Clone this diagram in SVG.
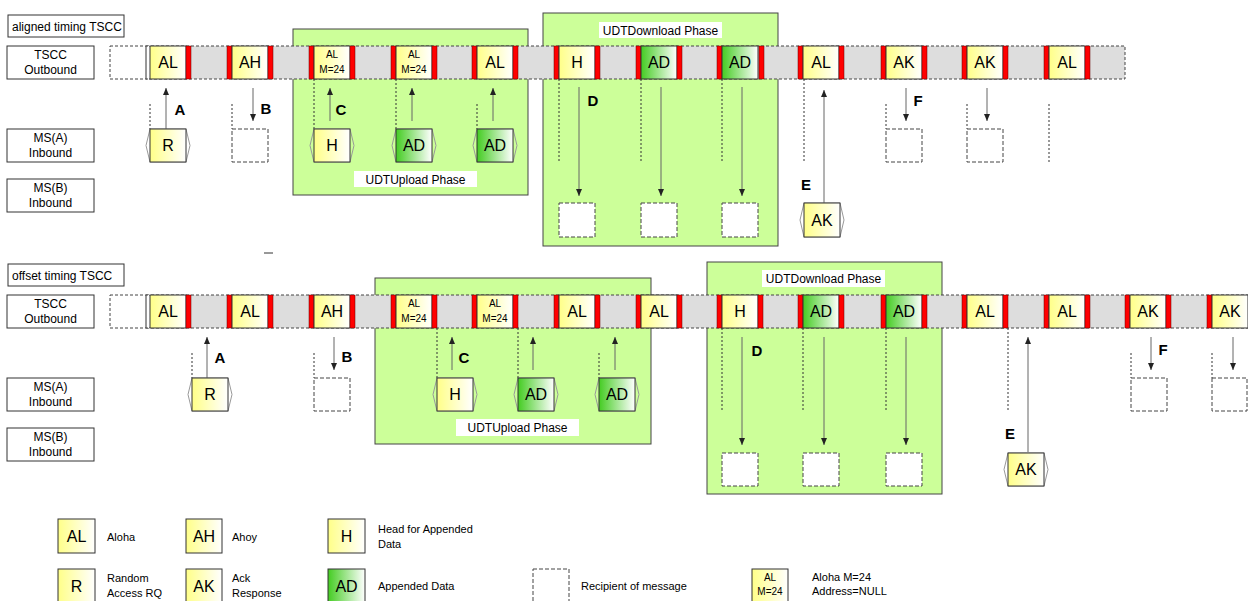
<svg xmlns="http://www.w3.org/2000/svg" width="1248" height="601" viewBox="0 0 1248 601">
<defs>
<linearGradient id="gy" x1="0" y1="0" x2="1" y2="0"><stop offset="0" stop-color="#ffff88"/><stop offset="1" stop-color="#ffffff"/></linearGradient>
<linearGradient id="gg" x1="0" y1="0" x2="1" y2="0"><stop offset="0" stop-color="#44cc22"/><stop offset="1" stop-color="#ffffff"/></linearGradient>
<marker id="ah" markerUnits="userSpaceOnUse" markerWidth="7" markerHeight="6" refX="7" refY="3" orient="auto"><path d="M0,0 L7,3 L0,6 z" fill="#222"/></marker>
</defs>
<style>
text{font-family:"Liberation Sans",Arial,sans-serif;fill:#000}
.lbl{font-size:16px;text-anchor:middle}
.sm{font-size:10px;text-anchor:middle}
.rl{font-size:12px;text-anchor:middle}
.lg{font-size:11px}
.let{font-size:15px;font-weight:bold;text-anchor:middle}
.ph{font-size:12px;text-anchor:middle}
.frame{fill:#fff;stroke:#333;stroke-width:1}
.strip{fill:#dddddd;stroke:#444;stroke-width:1;stroke-dasharray:3 2}
.empty{fill:#fff;stroke:#444;stroke-width:1;stroke-dasharray:3 2}
.red{fill:#ff0000;stroke:#600;stroke-width:0.5}
.by{fill:url(#gy);stroke:#333;stroke-width:1}
.bg{fill:url(#gg);stroke:#333;stroke-width:1}
.hex{fill:none;stroke:#999;stroke-width:1}
.rcp{fill:#fff;stroke:#444;stroke-width:1;stroke-dasharray:4 2}
.dot{stroke:#333;stroke-width:1;stroke-dasharray:2 2;fill:none}
.arr{stroke:#666;stroke-width:1;marker-end:url(#ah)}
.panel{fill:#ccff99;stroke:#444;stroke-width:1}
.plbl{fill:#fff;stroke:none}
</style>

<!-- Row labels -->
<g id="lbl-aligned"><rect class="frame" x="8" y="15" width="116" height="22"/><text x="12" y="31" style="font-size:12px">aligned timing TSCC</text></g>
<g id="lbl-top-out"><rect class="frame" x="7" y="46" width="87" height="33"/><text class="rl" x="50.5" y="59">TSCC</text><text class="rl" x="50.5" y="74">Outbound</text></g>
<g id="lbl-top-msa"><rect class="frame" x="7" y="129" width="87" height="33"/><text class="rl" x="50.5" y="142">MS(A)</text><text class="rl" x="50.5" y="157">Inbound</text></g>
<g id="lbl-top-msb"><rect class="frame" x="7" y="179" width="87" height="33"/><text class="rl" x="50.5" y="192">MS(B)</text><text class="rl" x="50.5" y="207">Inbound</text></g>

<g id="lbl-offset"><rect class="frame" x="8" y="264" width="116" height="22"/><text x="12" y="280" style="font-size:12px">offset timing TSCC</text></g>
<g id="lbl-bot-out"><rect class="frame" x="7" y="295" width="87" height="33"/><text class="rl" x="50.5" y="308">TSCC</text><text class="rl" x="50.5" y="323">Outbound</text></g>
<g id="lbl-bot-msa"><rect class="frame" x="7" y="378" width="87" height="33"/><text class="rl" x="50.5" y="391">MS(A)</text><text class="rl" x="50.5" y="406">Inbound</text></g>
<g id="lbl-bot-msb"><rect class="frame" x="7" y="428" width="87" height="33"/><text class="rl" x="50.5" y="441">MS(B)</text><text class="rl" x="50.5" y="456">Inbound</text></g>
<line x1="264" y1="253" x2="273" y2="253" stroke="#333" stroke-width="1"/>

<!-- Phase panels -->
<g id="top-upload"><rect class="panel" x="293" y="29" width="235" height="166"/><rect class="plbl" x="354" y="171" width="123" height="16"/><text class="ph" x="415.5" y="183.5">UDTUpload Phase</text></g>
<g id="top-download"><rect class="panel" x="543" y="13" width="235" height="233"/><rect class="plbl" x="599" y="22" width="123" height="16"/><text class="ph" x="660.5" y="34.5">UDTDownload Phase</text></g>
<g id="bot-upload"><rect class="panel" x="375" y="278" width="276" height="166"/><rect class="plbl" x="456" y="419" width="123" height="17"/><text class="ph" x="517.5" y="432">UDTUpload Phase</text></g>
<g id="bot-download"><rect class="panel" x="707" y="262" width="235" height="232"/><rect class="plbl" x="762" y="270" width="123" height="17"/><text class="ph" x="823.5" y="283">UDTDownload Phase</text></g>

<!-- Top strip -->
<g id="top-strip">
<rect class="strip" x="146" y="46" width="979" height="33"/>
<rect class="empty" x="110" y="46" width="40" height="33"/>
<rect x="147" y="47" width="3" height="31" fill="#fff"/>
<line x1="146" y1="46" x2="146" y2="79" stroke="#333"/>
</g>
<g id="t1"><rect class="by" x="150" y="46" width="36" height="33"/><rect class="red" x="186" y="46" width="5" height="33"/><text class="lbl" x="168" y="68">AL</text></g>
<g id="t2"><rect class="red" x="227" y="46" width="5" height="33"/><rect class="by" x="232" y="46" width="36" height="33"/><rect class="red" x="268" y="46" width="5" height="33"/><text class="lbl" x="250" y="68">AH</text></g>
<g id="t3"><rect class="red" x="309" y="46" width="5" height="33"/><rect class="by" x="314" y="46" width="36" height="33"/><rect class="red" x="350" y="46" width="5" height="33"/><text class="sm" x="332" y="58">AL</text><text class="sm" x="332" y="73">M=24</text></g>
<g id="t4"><rect class="red" x="391" y="46" width="5" height="33"/><rect class="by" x="396" y="46" width="36" height="33"/><rect class="red" x="432" y="46" width="5" height="33"/><text class="sm" x="414" y="58">AL</text><text class="sm" x="414" y="73">M=24</text></g>
<g id="t5"><rect class="red" x="472" y="46" width="5" height="33"/><rect class="by" x="477" y="46" width="36" height="33"/><rect class="red" x="513" y="46" width="5" height="33"/><text class="lbl" x="495" y="68">AL</text></g>
<g id="t6"><rect class="red" x="554" y="46" width="5" height="33"/><rect class="by" x="559" y="46" width="36" height="33"/><rect class="red" x="595" y="46" width="5" height="33"/><text class="lbl" x="577" y="68">H</text></g>
<g id="t7"><rect class="red" x="636" y="46" width="5" height="33"/><rect class="bg" x="641" y="46" width="36" height="33"/><rect class="red" x="677" y="46" width="5" height="33"/><text class="lbl" x="659" y="68">AD</text></g>
<g id="t8"><rect class="red" x="717" y="46" width="5" height="33"/><rect class="bg" x="722" y="46" width="36" height="33"/><rect class="red" x="759" y="46" width="5" height="33"/><text class="lbl" x="740" y="68">AD</text></g>
<g id="t9"><rect class="red" x="798" y="46" width="5" height="33"/><rect class="by" x="803" y="46" width="36" height="33"/><rect class="red" x="839" y="46" width="5" height="33"/><text class="lbl" x="821" y="68">AL</text></g>
<g id="t10"><rect class="red" x="881" y="46" width="5" height="33"/><rect class="by" x="886" y="46" width="36" height="33"/><rect class="red" x="922" y="46" width="5" height="33"/><text class="lbl" x="904" y="68">AK</text></g>
<g id="t11"><rect class="red" x="962" y="46" width="5" height="33"/><rect class="by" x="967" y="46" width="36" height="33"/><rect class="red" x="1003" y="46" width="5" height="33"/><text class="lbl" x="985" y="68">AK</text></g>
<g id="t12"><rect class="red" x="1044" y="46" width="5" height="33"/><rect class="by" x="1049" y="46" width="36" height="33"/><rect class="red" x="1085" y="46" width="5" height="33"/><text class="lbl" x="1067" y="68">AL</text></g>

<!-- Bottom strip -->
<g id="bot-strip">
<rect class="strip" x="146" y="295" width="1110" height="33"/>
<rect class="empty" x="110" y="295" width="40" height="33"/>
<rect x="147" y="296" width="3" height="31" fill="#fff"/>
<line x1="146" y1="295" x2="146" y2="328" stroke="#333"/>
</g>
<g id="b1"><rect class="by" x="150" y="295" width="36" height="33"/><rect class="red" x="186" y="295" width="5" height="33"/><text class="lbl" x="168" y="317">AL</text></g>
<g id="b2"><rect class="red" x="227" y="295" width="5" height="33"/><rect class="by" x="232" y="295" width="36" height="33"/><rect class="red" x="268" y="295" width="5" height="33"/><text class="lbl" x="250" y="317">AL</text></g>
<g id="b3"><rect class="red" x="309" y="295" width="5" height="33"/><rect class="by" x="314" y="295" width="36" height="33"/><rect class="red" x="350" y="295" width="5" height="33"/><text class="lbl" x="332" y="317">AH</text></g>
<g id="b4"><rect class="red" x="391" y="295" width="5" height="33"/><rect class="by" x="396" y="295" width="36" height="33"/><rect class="red" x="432" y="295" width="5" height="33"/><text class="sm" x="414" y="307">AL</text><text class="sm" x="414" y="322">M=24</text></g>
<g id="b5"><rect class="red" x="472" y="295" width="5" height="33"/><rect class="by" x="477" y="295" width="36" height="33"/><rect class="red" x="513" y="295" width="5" height="33"/><text class="sm" x="495" y="307">AL</text><text class="sm" x="495" y="322">M=24</text></g>
<g id="b6"><rect class="red" x="554" y="295" width="5" height="33"/><rect class="by" x="559" y="295" width="36" height="33"/><rect class="red" x="595" y="295" width="5" height="33"/><text class="lbl" x="577" y="317">AL</text></g>
<g id="b7"><rect class="red" x="636" y="295" width="5" height="33"/><rect class="by" x="641" y="295" width="36" height="33"/><rect class="red" x="677" y="295" width="5" height="33"/><text class="lbl" x="659" y="317">AL</text></g>
<g id="b8"><rect class="red" x="717" y="295" width="5" height="33"/><rect class="by" x="722" y="295" width="36" height="33"/><rect class="red" x="758" y="295" width="5" height="33"/><text class="lbl" x="740" y="317">H</text></g>
<g id="b9"><rect class="red" x="798" y="295" width="5" height="33"/><rect class="bg" x="803" y="295" width="36" height="33"/><rect class="red" x="839" y="295" width="5" height="33"/><text class="lbl" x="821" y="317">AD</text></g>
<g id="b10"><rect class="red" x="881" y="295" width="5" height="33"/><rect class="bg" x="886" y="295" width="36" height="33"/><rect class="red" x="922" y="295" width="5" height="33"/><text class="lbl" x="904" y="317">AD</text></g>
<g id="b11"><rect class="red" x="962" y="295" width="5" height="33"/><rect class="by" x="967" y="295" width="36" height="33"/><rect class="red" x="1003" y="295" width="5" height="33"/><text class="lbl" x="985" y="317">AL</text></g>
<g id="b12"><rect class="red" x="1044" y="295" width="5" height="33"/><rect class="by" x="1049" y="295" width="36" height="33"/><rect class="red" x="1085" y="295" width="5" height="33"/><text class="lbl" x="1067" y="317">AL</text></g>
<g id="b13"><rect class="red" x="1125" y="295" width="5" height="33"/><rect class="by" x="1130" y="295" width="36" height="33"/><rect class="red" x="1166" y="295" width="5" height="33"/><text class="lbl" x="1148" y="317">AK</text></g>
<g id="b14"><rect class="red" x="1207" y="295" width="5" height="33"/><rect class="by" x="1212" y="295" width="36" height="33"/><text class="lbl" x="1230" y="317">AK</text></g>

<!-- Connectors -->
<g id="connectors">
<line class="dot" x1="150" y1="104" x2="150" y2="129"/>
<line class="arr" x1="166" y1="129" x2="166" y2="88"/>
<line class="dot" x1="232" y1="104" x2="232" y2="129"/>
<line class="arr" x1="253" y1="88" x2="253" y2="121"/>
<line class="dot" x1="314" y1="79" x2="314" y2="129"/>
<line class="arr" x1="330" y1="121" x2="330" y2="88"/>
<line class="dot" x1="396" y1="79" x2="396" y2="129"/>
<line class="arr" x1="412" y1="121" x2="412" y2="88"/>
<line class="dot" x1="477" y1="104" x2="477" y2="129"/>
<line class="arr" x1="493" y1="121" x2="493" y2="88"/>
<line class="dot" x1="559" y1="79" x2="559" y2="163"/>
<line class="dot" x1="641" y1="79" x2="641" y2="163"/>
<line class="dot" x1="722" y1="79" x2="722" y2="163"/>
<line class="arr" x1="579" y1="87" x2="579" y2="196"/>
<line class="arr" x1="661" y1="87" x2="661" y2="196"/>
<line class="arr" x1="742" y1="87" x2="742" y2="196"/>
<line class="dot" x1="804" y1="79" x2="804" y2="163"/>
<line class="arr" x1="824" y1="203" x2="824" y2="90"/>
<line class="dot" x1="886" y1="104" x2="886" y2="129"/>
<line class="arr" x1="906" y1="88" x2="906" y2="121"/>
<line class="dot" x1="967" y1="104" x2="967" y2="129"/>
<line class="arr" x1="987" y1="88" x2="987" y2="121"/>
<line class="dot" x1="1049" y1="104" x2="1049" y2="162"/>

<line class="dot" x1="192" y1="353" x2="192" y2="378"/>
<line class="arr" x1="207" y1="378" x2="207" y2="337"/>
<line class="dot" x1="314" y1="353" x2="314" y2="378"/>
<line class="arr" x1="334" y1="337" x2="334" y2="370"/>
<line class="dot" x1="437" y1="328" x2="437" y2="378"/>
<line class="arr" x1="452" y1="370" x2="452" y2="337"/>
<line class="dot" x1="518" y1="328" x2="518" y2="378"/>
<line class="arr" x1="533" y1="370" x2="533" y2="337"/>
<line class="dot" x1="599" y1="353" x2="599" y2="378"/>
<line class="arr" x1="615" y1="370" x2="615" y2="337"/>
<line class="dot" x1="722" y1="328" x2="722" y2="411"/>
<line class="dot" x1="803" y1="328" x2="803" y2="411"/>
<line class="dot" x1="886" y1="328" x2="886" y2="411"/>
<line class="arr" x1="742" y1="337" x2="742" y2="445"/>
<line class="arr" x1="824" y1="337" x2="824" y2="445"/>
<line class="arr" x1="906" y1="337" x2="906" y2="445"/>
<line class="dot" x1="1008" y1="328" x2="1008" y2="411"/>
<line class="arr" x1="1028" y1="452" x2="1028" y2="337"/>
<line class="dot" x1="1131" y1="353" x2="1131" y2="378"/>
<line class="arr" x1="1151" y1="337" x2="1151" y2="370"/>
<line class="dot" x1="1212" y1="353" x2="1212" y2="378"/>
<line class="arr" x1="1233" y1="337" x2="1233" y2="370"/>

<text class="let" x="180" y="115">A</text>
<text class="let" x="266" y="114">B</text>
<text class="let" x="341" y="115">C</text>
<text class="let" x="593" y="106">D</text>
<text class="let" x="806" y="190">E</text>
<text class="let" x="918" y="106">F</text>
<text class="let" x="220" y="363">A</text>
<text class="let" x="347" y="362">B</text>
<text class="let" x="464" y="363">C</text>
<text class="let" x="757" y="356">D</text>
<text class="let" x="1010" y="439">E</text>
<text class="let" x="1163" y="355">F</text>
</g>

<!-- Top inbound nodes -->
<g id="top-R"><polygon class="hex" points="146,145.5 150,129 186,129 190,145.5 186,162 150,162"/><rect class="by" x="150" y="129" width="36" height="33"/><text class="lbl" x="168" y="151">R</text></g>
<g id="top-rcpB"><rect class="rcp" x="232" y="129" width="36" height="33"/></g>
<g id="top-H"><polygon class="hex" points="310,145.5 314,129 350,129 354,145.5 350,162 314,162"/><rect class="by" x="314" y="129" width="36" height="33"/><text class="lbl" x="332" y="151">H</text></g>
<g id="top-AD1"><polygon class="hex" points="392,145.5 396,129 432,129 436,145.5 432,162 396,162"/><rect class="bg" x="396" y="129" width="36" height="33"/><text class="lbl" x="414" y="151">AD</text></g>
<g id="top-AD2"><polygon class="hex" points="473,145.5 477,129 513,129 517,145.5 513,162 477,162"/><rect class="bg" x="477" y="129" width="36" height="33"/><text class="lbl" x="495" y="151">AD</text></g>
<g id="top-rcpD1"><rect class="rcp" x="559" y="203" width="36" height="34"/></g>
<g id="top-rcpD2"><rect class="rcp" x="641" y="203" width="36" height="34"/></g>
<g id="top-rcpD3"><rect class="rcp" x="722" y="203" width="36" height="34"/></g>
<g id="top-AK"><polygon class="hex" points="800,220 804,203 840,203 844,220 840,237 804,237"/><rect class="by" x="804" y="203" width="36" height="34"/><text class="lbl" x="822" y="226">AK</text></g>
<g id="top-rcpF1"><rect class="rcp" x="886" y="129" width="36" height="33"/></g>
<g id="top-rcpF2"><rect class="rcp" x="967" y="129" width="36" height="33"/></g>

<!-- Bottom inbound nodes -->
<g id="bot-R"><polygon class="hex" points="188,394.5 192,378 228,378 232,394.5 228,411 192,411"/><rect class="by" x="192" y="378" width="36" height="33"/><text class="lbl" x="210" y="400">R</text></g>
<g id="bot-rcpB"><rect class="rcp" x="314" y="378" width="36" height="33"/></g>
<g id="bot-H"><polygon class="hex" points="433,394.5 437,378 473,378 477,394.5 473,411 437,411"/><rect class="by" x="437" y="378" width="36" height="33"/><text class="lbl" x="455" y="400">H</text></g>
<g id="bot-AD1"><polygon class="hex" points="514,394.5 518,378 554,378 558,394.5 554,411 518,411"/><rect class="bg" x="518" y="378" width="36" height="33"/><text class="lbl" x="536" y="400">AD</text></g>
<g id="bot-AD2"><polygon class="hex" points="595,394.5 599,378 635,378 639,394.5 635,411 599,411"/><rect class="bg" x="599" y="378" width="36" height="33"/><text class="lbl" x="617" y="400">AD</text></g>
<g id="bot-rcpD1"><rect class="rcp" x="722" y="453" width="36" height="33"/></g>
<g id="bot-rcpD2"><rect class="rcp" x="803" y="453" width="36" height="33"/></g>
<g id="bot-rcpD3"><rect class="rcp" x="886" y="453" width="36" height="33"/></g>
<g id="bot-AK"><polygon class="hex" points="1004,469.5 1008,453 1044,453 1048,469.5 1044,486 1008,486"/><rect class="by" x="1008" y="453" width="36" height="33"/><text class="lbl" x="1026" y="475">AK</text></g>
<g id="bot-rcpF1"><rect class="rcp" x="1131" y="378" width="36" height="33"/></g>
<g id="bot-rcpF2"><rect class="rcp" x="1212" y="378" width="35" height="33"/></g>

<!-- Legend -->
<g id="leg-AL"><rect class="by" x="58" y="519" width="37" height="34"/><text class="lbl" x="76.5" y="542">AL</text><text class="lg" x="107" y="541">Aloha</text></g>
<g id="leg-AH"><rect class="by" x="186" y="519" width="36" height="34"/><text class="lbl" x="204" y="542">AH</text><text class="lg" x="232" y="541">Ahoy</text></g>
<g id="leg-H"><rect class="by" x="328" y="519" width="37" height="34"/><text class="lbl" x="346.5" y="542">H</text><text class="lg" x="378" y="533">Head for Appended</text><text class="lg" x="378" y="548">Data</text></g>
<g id="leg-R"><rect class="by" x="58" y="569" width="37" height="34"/><text class="lbl" x="76.5" y="592">R</text><text class="lg" x="107" y="582">Random</text><text class="lg" x="107" y="597">Access RQ</text></g>
<g id="leg-AK"><rect class="by" x="186" y="569" width="36" height="34"/><text class="lbl" x="204" y="592">AK</text><text class="lg" x="232" y="582">Ack</text><text class="lg" x="232" y="597">Response</text></g>
<g id="leg-AD"><rect class="bg" x="328" y="569" width="37" height="34"/><text class="lbl" x="346.5" y="592">AD</text><text class="lg" x="378" y="590">Appended Data</text></g>
<g id="leg-rcp"><rect class="rcp" x="533" y="569" width="36" height="34"/><text class="lg" x="581" y="590">Recipient of message</text></g>
<g id="leg-ALM"><rect class="by" x="752" y="569" width="36" height="34"/><text class="sm" x="770" y="581">AL</text><text class="sm" x="770" y="595">M=24</text><text class="lg" x="812" y="581">Aloha M=24</text><text class="lg" x="812" y="595">Address=NULL</text></g>
</svg>
